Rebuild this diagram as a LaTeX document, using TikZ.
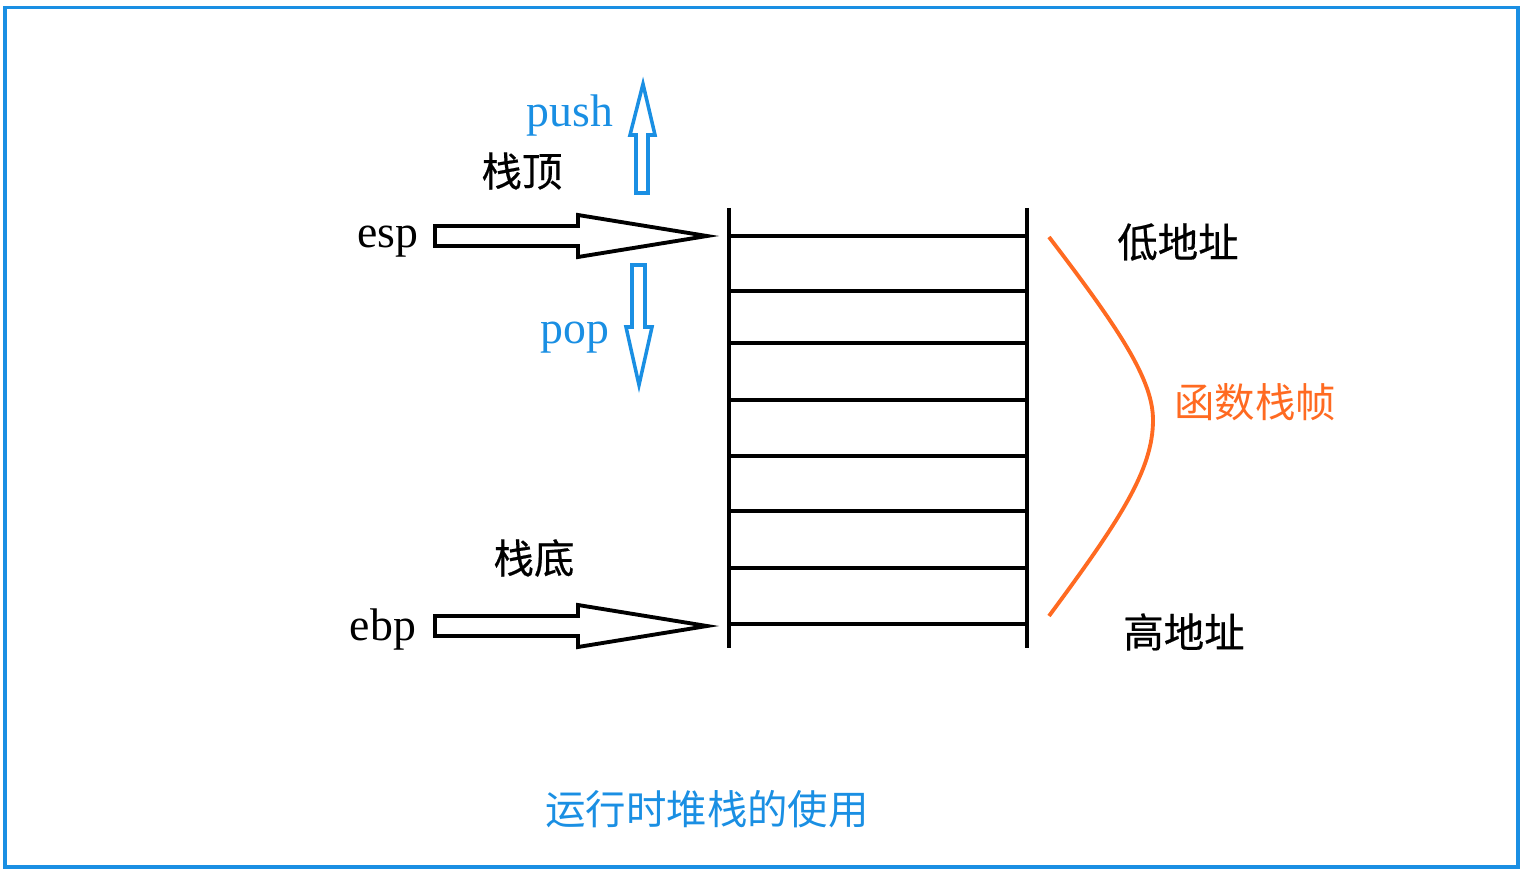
\documentclass[tikz,border=0pt]{standalone}
\usepackage{fontspec}
\setmainfont{Liberation Serif}
\newfontfamily\cjk{Noto Sans CJK SC}
\newfontfamily\cjkb[FakeBold=0.5]{Noto Sans CJK SC}
\usetikzlibrary{positioning,calc}
\definecolor{lan}{HTML}{1A8FE3}
\definecolor{cheng}{HTML}{FF6A21}

\begin{document}
\begin{tikzpicture}[x=0.01cm, y=-0.01cm,
      lat/.style={font=\fontsize{13}{15}\selectfont, inner sep=0pt},
      zh/.style={font=\cjk\fontsize{11.5}{13}\selectfont, inner sep=0pt},
      zhb/.style={font=\cjkb\fontsize{11.5}{13}\selectfont, inner sep=0pt},
      ln/.style={line width=1.1pt},
      blk/.style={draw, line width=1.1pt, line join=miter},
      bl/.style={draw=lan, line width=1pt, line join=miter}]

    \useasboundingbox (0,0) rectangle (1527,876);
    \draw[lan, line width=1.1pt] (5,7.5) rectangle (1518,867);

    % 栈
    \draw[ln] (729,208) -- (729,648);
    \draw[ln] (1027,208) -- (1027,648);
    \foreach \y in {236,291,343,400,456,511,568,624}
      \draw[ln] (729,\y) -- (1027,\y);

    \coordinate (esptip) at (707,236);
    \coordinate (ebptip) at (707,626);
    \coordinate (pushtip) at (643,84);
    \coordinate (poptip) at (639,385);

    % esp / ebp
    \node[lat] (esp) at (388,242) {esp};
    \node[lat] (ebp) at (383,630) {ebp};
    \draw[blk] (esptip) -- ++(-129,-21) -- ++(0,11) -- ++(-143,0) -- ++(0,20)
      -- ++(143,0) -- ++(0,11) -- cycle;
    \draw[blk] (ebptip) -- ++(-129,-21) -- ++(0,11) -- ++(-143,0) -- ++(0,20)
      -- ++(143,0) -- ++(0,11) -- cycle;

    % push / pop
    \node[lat, text=lan] (push) at (570,116) {push};
    \node[lat, text=lan] (pop) at (575,338) {pop};
    \draw[bl] (pushtip) -- ++(12,51) -- ++(-7,0) -- ++(0,58) -- ++(-12,0)
      -- ++(0,-58) -- ++(-6,0) -- cycle;
    \draw[bl] (poptip) -- ++(13,-58) -- ++(-7,0) -- ++(0,-62) -- ++(-13,0)
      -- ++(0,62) -- ++(-6,0) -- cycle;

    \node[zhb] (top) at (522,171) {栈顶};
    \node[zhb] (bottom) at (534,558) {栈底};
    \node[zhb] (low) at (1178,242) {低地址};
    \node[zhb] (high) at (1184,632) {高地址};

    % 栈帧
    \draw[cheng, ln] (1049,237) .. controls (1120,330) and (1153,380) .. (1153,420)
      .. controls (1153,470) and (1120,520) .. (1049,616);
    \node[zh, text=cheng] (frame) at (1255,402) {函数栈帧};

    \node[zh, text=lan] (title) at (707,809) {运行时堆栈的使用};
  \end{tikzpicture}
\end{document}
